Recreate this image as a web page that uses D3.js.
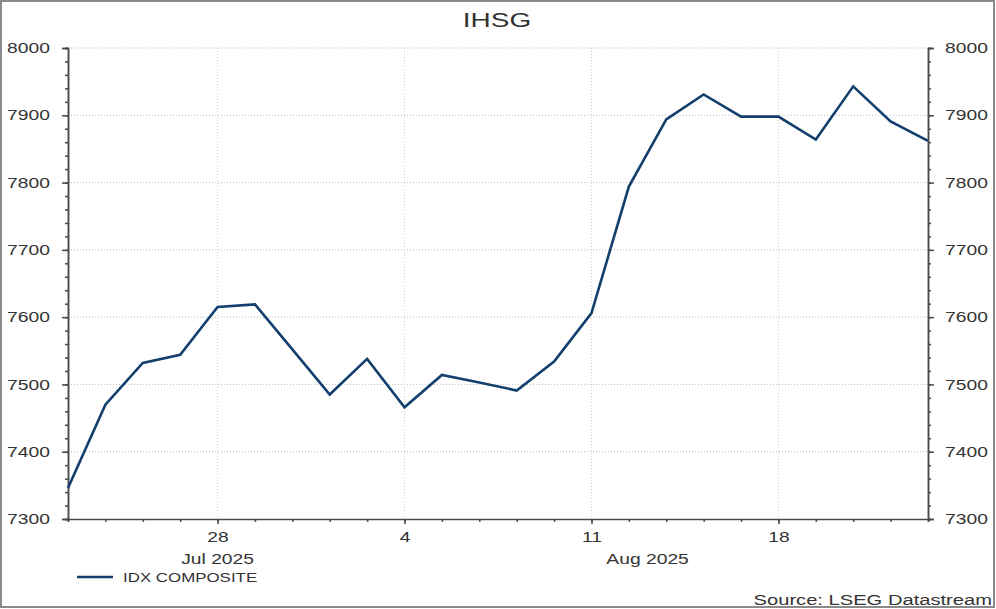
<!DOCTYPE html>
<html>
<head>
<meta charset="utf-8">
<script src="https://cdn.jsdelivr.net/npm/d3@7"></script>
<style>
  html, body { margin: 0; padding: 0; background: #fff; }
  svg { display: block; font-family: "Liberation Sans", Arial, sans-serif; }
</style>
</head>
<body>
<script>
// ---- data ----
const dates = ["2025-07-22","2025-07-23","2025-07-24","2025-07-25",
  "2025-07-28","2025-07-29","2025-07-30","2025-07-31","2025-08-01",
  "2025-08-04","2025-08-05","2025-08-06","2025-08-07","2025-08-08",
  "2025-08-11","2025-08-12","2025-08-13","2025-08-14","2025-08-15",
  "2025-08-18","2025-08-19","2025-08-20","2025-08-21","2025-08-22"];
const values = [7346, 7470, 7532, 7544,
  7615, 7619, 7552, 7485, 7538,
  7466, 7514, 7503, 7491, 7534,
  7606, 7794, 7894, 7931, 7898,
  7898, 7864, 7943, 7891, 7862];
const majorDates = ["2025-07-28","2025-08-04","2025-08-11","2025-08-18"];
const majorLabels = ["28","4","11","18"];
const months = [
  {label: "Jul 2025", start: "2025-07-22", end: "2025-08-01"},
  {label: "Aug 2025", start: "2025-08-01", end: "2025-08-22"}
];
const yMajor = [7300,7400,7500,7600,7700,7800,7900,8000];
const yMinor = d3.range(7300, 8001, 20);
const title = "IHSG";
const seriesName = "IDX COMPOSITE";
const source = "Source: LSEG Datastream";

// ---- layout ----
const W = 996, H = 609;
const L = 68, R = 928, T = 48, B = 519;
const SX = 1.33;
const axisColor = "#4a4a4a", textColor = "#333", lineColor = "#123f6c";

const svg = d3.select("body").append("svg").attr("width", W).attr("height", H);

// frame
svg.append("rect").attr("x", 1).attr("y", 1).attr("width", W - 3).attr("height", H - 3)
  .attr("fill", "#fff").attr("stroke", "#8a8a8a").attr("stroke-width", 2);

const x = d3.scalePoint().domain(dates).range([L, R]);
const y = d3.scaleLinear().domain([7300, 8000]).range([B, T]);

// gridlines
svg.append("g").selectAll("line").data(yMajor.filter(v => v > 7300)).join("line")
  .attr("x1", L).attr("x2", R).attr("y1", d => y(d)).attr("y2", d => y(d))
  .attr("stroke", "#bdbdbd").attr("stroke-width", 1).attr("stroke-dasharray", "1,2");
svg.append("g").selectAll("line").data(majorDates).join("line")
  .attr("x1", d => x(d)).attr("x2", d => x(d)).attr("y1", T).attr("y2", B)
  .attr("stroke", "#d0d0d0").attr("stroke-width", 1).attr("stroke-dasharray", "1,2");

function styleAxis(g) {
  g.select(".domain").attr("stroke", axisColor).attr("stroke-width", 1.5);
  g.selectAll(".tick line").attr("stroke", axisColor).attr("stroke-width", 1.5);
}

// left axis
const leftMinor = svg.append("g").attr("transform", `translate(${L},0)`)
  .call(d3.axisLeft(y).tickValues(yMinor).tickSize(3).tickFormat(""));
styleAxis(leftMinor);
const leftMajor = svg.append("g").attr("transform", `translate(${L},0)`)
  .call(d3.axisLeft(y).tickValues(yMajor).tickSize(6).tickFormat(d3.format("d")));
styleAxis(leftMajor);
leftMajor.selectAll("text").attr("x", -18 / SX).attr("transform", `scale(${SX},1)`)
  .attr("font-size", 14.5).attr("fill", textColor).attr("font-family", "Liberation Sans, Arial, sans-serif");

// right axis
const rightMinor = svg.append("g").attr("transform", `translate(${R},0)`)
  .call(d3.axisRight(y).tickValues(yMinor).tickSize(3).tickFormat(""));
styleAxis(rightMinor);
const rightMajor = svg.append("g").attr("transform", `translate(${R},0)`)
  .call(d3.axisRight(y).tickValues(yMajor).tickSize(6).tickFormat(d3.format("d")));
styleAxis(rightMajor);
rightMajor.selectAll("text").attr("x", 17 / SX).attr("transform", `scale(${SX},1)`)
  .attr("font-size", 14.5).attr("fill", textColor).attr("font-family", "Liberation Sans, Arial, sans-serif");

// bottom axis
const bottomMinor = svg.append("g").attr("transform", `translate(0,${B})`)
  .call(d3.axisBottom(x).tickValues(dates).tickSize(3).tickFormat(""));
styleAxis(bottomMinor);
const bottomMajor = svg.append("g").attr("transform", `translate(0,${B})`)
  .call(d3.axisBottom(x).tickValues(majorDates).tickSize(5)
    .tickFormat(d => majorLabels[majorDates.indexOf(d)]));
styleAxis(bottomMajor);
bottomMajor.select(".domain").remove();
bottomMajor.selectAll("text").attr("y", 23).attr("dy", 0).attr("transform", `scale(${SX},1)`)
  .attr("font-size", 14.5).attr("fill", textColor).attr("font-family", "Liberation Sans, Arial, sans-serif");

// month labels
svg.append("g").selectAll("text").data(months).join("text")
  .attr("transform", d => `translate(${(x(d.start) + x(d.end)) / 2},564) scale(${SX},1)`)
  .attr("text-anchor", "middle").attr("font-size", 14.5).attr("fill", textColor)
  .text(d => d.label);

// series line
const line = d3.line().x((d, i) => x(dates[i])).y(d => y(d));
svg.append("path").datum(values).attr("d", line)
  .attr("fill", "none").attr("stroke", lineColor).attr("stroke-width", 2.6)
  .attr("stroke-linejoin", "miter");

// title
svg.append("text").attr("transform", `translate(497,27) scale(1.4,1)`)
  .attr("text-anchor", "middle").attr("font-size", 20).attr("fill", textColor).text(title);

// legend
svg.append("line").attr("x1", 77).attr("x2", 113).attr("y1", 577).attr("y2", 577)
  .attr("stroke", lineColor).attr("stroke-width", 2.6);
svg.append("text").attr("transform", `translate(123,582) scale(1.3,1)`)
  .attr("font-size", 13).attr("fill", textColor).text(seriesName);

// source
svg.append("text").attr("transform", `translate(992,605) scale(1.3,1)`)
  .attr("text-anchor", "end").attr("font-size", 15.5).attr("fill", textColor).text(source);
</script>
</body>
</html>
